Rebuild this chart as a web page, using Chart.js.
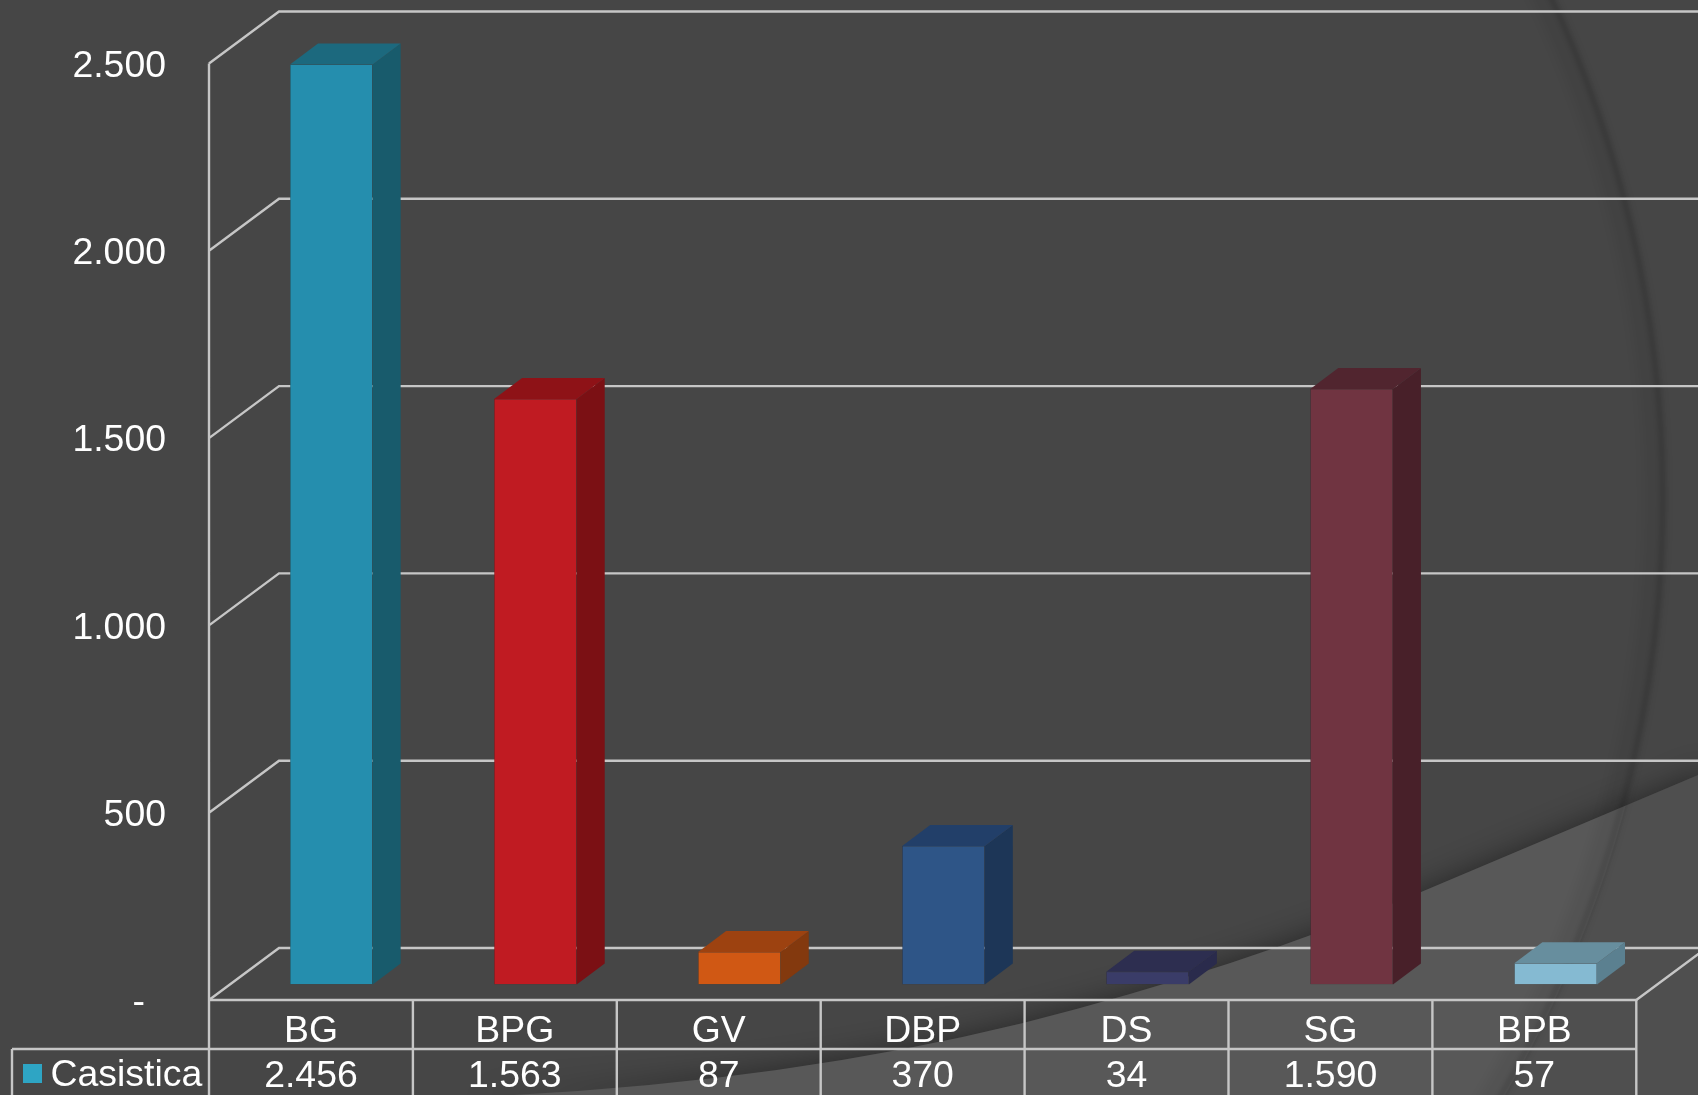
<!DOCTYPE html>
<html>
<head>
<meta charset="utf-8">
<title>Casistica</title>
<script src="https://cdn.jsdelivr.net/npm/chart.js@4/dist/chart.umd.min.js"></script>
<style>
  html, body { margin: 0; padding: 0; background: #464646; overflow: hidden; }
  canvas { display: block; }
</style>
</head>
<body>
<canvas id="bar-chart" width="1698" height="1095"></canvas>
<script>
const categories = ["BG", "BPG", "GV", "DBP", "DS", "SG", "BPB"];
const seriesName = "Casistica";
const casistica = [2456, 1563, 87, 370, 34, 1590, 57];
const valueLabels = ["2.456", "1.563", "87", "370", "34", "1.590", "57"];
const yTickLabels = ["-", "500", "1.000", "1.500", "2.000", "2.500"];

const frontColors = ["#258eae", "#c01b22", "#d05814", "#2e5587", "#3a3c68", "#703441", "#85bad2"];
const sideColors = ["#185b6c", "#7b1014", "#83390e", "#1d3657", "#2a2b4c", "#482029", "#5b8090"];
const topColors = ["#1c697e", "#8e1217", "#9d4210", "#223f69", "#2d2e50", "#51252f", "#678e9e"];

const FONT = '37.4px "Liberation Sans", Arial, sans-serif';
const LINE = "#c6c6c6";
const LINE_W = 2.4;
// table and floor edge run a touch tighter than the bars
const tableLeft = 209;
const tableStep = 203.9;
// where the box faces sit relative to the plane of the bars
const front = { dy: 15.5 };
const back = { dx: 70, dy: -36.5 };
const barDepth = { dx: 28, dy: -21 };

// slide background: dark with the lighter swoosh and the big arc
const backgroundPlugin = {
  id: "background",
  beforeDraw(chart) {
    const ctx = chart.ctx;
    const w = chart.width, h = chart.height;
    ctx.save();
    ctx.fillStyle = "#464646";
    ctx.fillRect(0, 0, w, h);

    const swoosh = new Path2D();
    swoosh.moveTo(470, 1097);
    swoosh.quadraticCurveTo(770, 1085, 1023, 1023);
    swoosh.quadraticCurveTo(1240, 968, 1421, 892);
    swoosh.lineTo(1710, 770);
    swoosh.lineTo(1710, 1100);
    swoosh.closePath();

    ctx.save();
    ctx.shadowColor = "rgba(0,0,0,0.45)";
    ctx.shadowBlur = 30;
    ctx.fillStyle = "#585858";
    ctx.fill(swoosh);
    ctx.restore();

    // right of the arc the swoosh is a little darker
    ctx.save();
    ctx.clip(swoosh);
    ctx.beginPath();
    ctx.rect(0, 0, w, h);
    ctx.arc(481, 499, 1185, 0, Math.PI * 2, true);
    ctx.fillStyle = "rgba(0,0,0,0.1)";
    ctx.fill("evenodd");
    ctx.restore();

    // arc band, soft on the inner side
    ctx.save();
    ctx.filter = "blur(4px)";
    ctx.strokeStyle = "rgba(0,0,0,0.05)";
    ctx.lineWidth = 22;
    ctx.beginPath();
    ctx.arc(481, 499, 1174, -0.5, 0.6);
    ctx.stroke();
    ctx.filter = "blur(2px)";
    ctx.strokeStyle = "rgba(0,0,0,0.13)";
    ctx.lineWidth = 6;
    ctx.beginPath();
    ctx.arc(481, 499, 1182, -0.5, 0.6);
    ctx.stroke();
    ctx.restore();
    ctx.restore();
  },
};

// back wall, left wall and floor, hung on the y scale ticks
const wallsPlugin = {
  id: "walls",
  beforeDatasetsDraw(chart) {
    const ctx = chart.ctx;
    const y = chart.scales.y;
    const right = tableLeft + tableStep * categories.length;
    ctx.save();
    ctx.strokeStyle = LINE;
    ctx.lineWidth = LINE_W;
    ctx.beginPath();
    y.ticks.forEach((tick) => {
      const p = y.getPixelForValue(tick.value);
      ctx.moveTo(tableLeft, p + front.dy);
      ctx.lineTo(tableLeft + back.dx, p + back.dy);
      ctx.lineTo(chart.width + 2, p + back.dy);
    });
    ctx.moveTo(tableLeft, y.getPixelForValue(2500) + front.dy);
    ctx.lineTo(tableLeft, y.getPixelForValue(0) + front.dy);
    ctx.moveTo(right, y.getPixelForValue(0) + front.dy);
    ctx.lineTo(right + back.dx, y.getPixelForValue(0) + back.dy);
    ctx.stroke();
    ctx.restore();
  },
};

// side and top faces of each bar
const bar3dPlugin = {
  id: "bar3d",
  afterDatasetsDraw(chart) {
    const ctx = chart.ctx;
    const meta = chart.getDatasetMeta(0);
    ctx.save();
    meta.data.forEach((bar, i) => {
      const l = bar.x - bar.width / 2;
      const r = bar.x + bar.width / 2;
      ctx.fillStyle = sideColors[i];
      ctx.beginPath();
      ctx.moveTo(r, bar.y);
      ctx.lineTo(r + barDepth.dx, bar.y + barDepth.dy);
      ctx.lineTo(r + barDepth.dx, bar.base + barDepth.dy);
      ctx.lineTo(r, bar.base);
      ctx.closePath();
      ctx.fill();
      ctx.fillStyle = topColors[i];
      ctx.beginPath();
      ctx.moveTo(l, bar.y);
      ctx.lineTo(l + barDepth.dx, bar.y + barDepth.dy);
      ctx.lineTo(r + barDepth.dx, bar.y + barDepth.dy);
      ctx.lineTo(r, bar.y);
      ctx.closePath();
      ctx.fill();
    });
    ctx.restore();
  },
};

// y tick labels and the data table under the chart
const tablePlugin = {
  id: "dataTable",
  afterDraw(chart) {
    const ctx = chart.ctx;
    const y = chart.scales.y;
    const right = tableLeft + tableStep * categories.length;
    const floorY = y.getPixelForValue(0) + front.dy;
    const rowY = floorY + 49;
    const bottom = chart.height + 2;

    ctx.save();
    ctx.strokeStyle = LINE;
    ctx.lineWidth = LINE_W;
    ctx.beginPath();
    ctx.moveTo(tableLeft, floorY);
    ctx.lineTo(right, floorY);
    ctx.moveTo(12, rowY);
    ctx.lineTo(right, rowY);
    ctx.moveTo(12, rowY);
    ctx.lineTo(12, bottom);
    for (let i = 0; i <= categories.length; i++) {
      ctx.moveTo(tableLeft + tableStep * i, floorY);
      ctx.lineTo(tableLeft + tableStep * i, bottom);
    }
    ctx.stroke();

    ctx.fillStyle = "#ffffff";
    ctx.font = FONT;
    ctx.textBaseline = "middle";

    ctx.textAlign = "right";
    y.ticks.forEach((tick, i) => {
      const pad = tick.value === 0 ? 21 : 0;
      ctx.fillText(yTickLabels[i], 166 - pad, y.getPixelForValue(tick.value) + front.dy + 3);
    });

    ctx.textAlign = "center";
    categories.forEach((name, i) => {
      const cx = tableLeft + tableStep * (i + 0.5);
      ctx.fillText(name, cx, floorY + 31.5);
      ctx.fillText(valueLabels[i], cx, rowY + 28);
    });

    ctx.textAlign = "left";
    ctx.fillText(seriesName, 50.5, rowY + 26.5);
    ctx.fillStyle = "#2ea5c4";
    ctx.fillRect(23, rowY + 15, 19, 19);
    ctx.restore();
  },
};

new Chart(document.getElementById("bar-chart").getContext("2d"), {
  type: "bar",
  data: {
    labels: categories,
    datasets: [
      {
        label: seriesName,
        data: casistica,
        backgroundColor: frontColors,
        borderColor: sideColors,
        borderWidth: 0.6,
        borderSkipped: false,
        categoryPercentage: 1,
        barPercentage: 0.405,
      },
    ],
  },
  options: {
    responsive: false,
    animation: false,
    layout: { padding: { left: 229.3, right: 40.3, top: 48, bottom: 110.5 } },
    plugins: { legend: { display: false }, tooltip: { enabled: false } },
    scales: {
      x: { display: false },
      y: { display: false, min: 0, max: 2500, ticks: { stepSize: 500 } },
    },
  },
  plugins: [backgroundPlugin, wallsPlugin, bar3dPlugin, tablePlugin],
});
</script>
</body>
</html>
